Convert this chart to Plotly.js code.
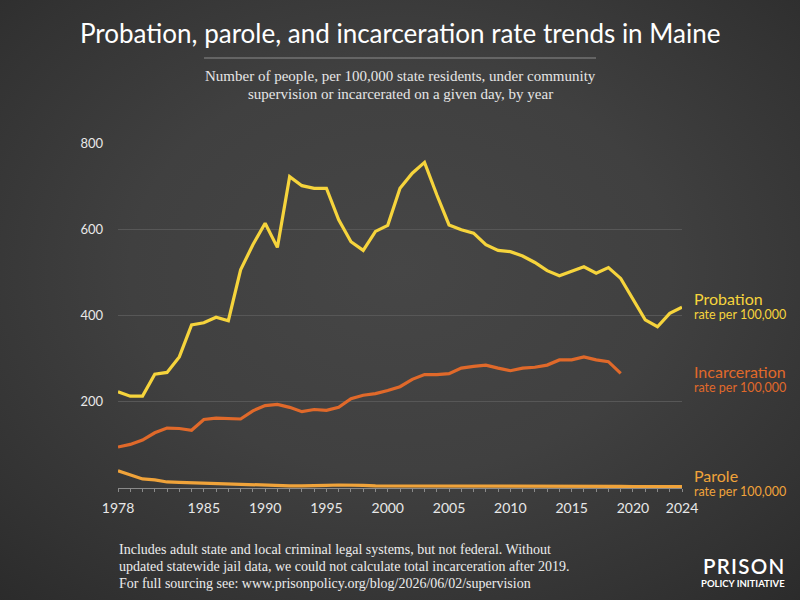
<!DOCTYPE html>
<html>
<head>
<meta charset="utf-8">
<script src="https://cdn.plot.ly/plotly-3.0.1.min.js"></script>
<style>
  html, body { margin: 0; padding: 0; }
  body {
    width: 800px; height: 600px; overflow: hidden;
    background: radial-gradient(ellipse 75% 75% at 50% 45%, #464646 0%, #404040 45%, #333333 80%, #2b2b2b 100%);
  }
  #chart { width: 800px; height: 600px; }
</style>
</head>
<body>
<div id="chart"></div>
<script>
// Rates per 100,000 Maine residents, by year
const years = [];
for (let y = 1978; y <= 2024; y++) years.push(y);

const probation = [
  223, 213, 213, 264, 268, 304, 378, 383, 396, 388,
  506, 564, 614, 558, 722, 701, 695, 695, 622, 571,
  551, 595, 609, 695, 730, 755, 680, 610, 599, 591,
  564, 551, 548, 538, 523, 504, 492, 503, 513, 498,
  511, 486, 438, 390, 374, 405, 419
];

// Total incarceration only available through 2019
const incarceration = [
  95, 101, 111, 128, 139, 138, 134, 159, 162, 161,
  160, 179, 191, 194, 187, 177, 182, 180, 187, 207,
  215, 219, 226, 235, 252, 263, 263, 265, 278, 282,
  285, 278, 272, 278, 280, 285, 297, 297, 304, 297,
  293, 266, null, null, null, null, null
];

const parole = [
  40, 30, 21, 19, 14, 13, 12, 11, 10, 9,
  8, 7, 6, 5, 5, 5, 5, 6, 7, 7,
  6, 5, 5, 5, 5, 5, 5, 5, 5, 5,
  5, 5, 4, 4, 4, 4, 4, 4, 4, 4,
  4, 4, 3, 3, 3, 3, 3
];

const labeledYears = [1978, 1985, 1990, 1995, 2000, 2005, 2010, 2015, 2020, 2024];
const yTicks = [200, 400, 600, 800];

const COLORS = { probation: '#f6d43c', incarceration: '#e0692a', parole: '#f0a33a' };

// Plot area in page pixels
const M = { l: 118, r: 118, t: 143, b: 112 };
const PW = 800 - M.l - M.r, PH = 600 - M.t - M.b;
const px = (x) => (x - M.l) / PW;
const py = (y) => (600 - M.b - y) / PH;

function series(name, ys, color) {
  return {
    x: years, y: ys, name: name, type: 'scatter', mode: 'lines',
    line: { color: color, width: 3.2, shape: 'linear' },
    connectgaps: false, hoverinfo: 'skip', cliponaxis: false
  };
}

const data = [
  series('Parole', parole, COLORS.parole),
  series('Incarceration', incarceration, COLORS.incarceration),
  series('Probation', probation, COLORS.probation)
];

const SANS = 'Lato, "Open Sans", sans-serif';
const SERIF = '"Liberation Serif", "DejaVu Serif", serif';

function note(text, x, y, opts) {
  return Object.assign({
    text: text, xref: 'paper', yref: 'paper', x: px(x), y: py(y),
    showarrow: false, xanchor: 'left', yanchor: 'middle', align: 'left',
    font: { family: SANS, size: 13, color: '#ffffff' }
  }, opts || {});
}

const HAIR = '\u200a';

const annotations = [
  // Title and subtitle
  note('Probation, parole, and incarceration rate trends in Maine', 400, 33,
       { xanchor: 'center', align: 'center', font: { family: SANS, size: 26, color: '#ffffff' } }),
  note('Number of people, per 100,000 state residents, under community', 400, 76,
       { xanchor: 'center', align: 'center', font: { family: SERIF, size: 15, color: '#e6e6e6' } }),
  note('supervision or incarcerated on a given day, by year', 400, 94,
       { xanchor: 'center', align: 'center', font: { family: SERIF, size: 15, color: '#e6e6e6' } }),

  // End-of-line labels
  note('Probation', 692, 298, { font: { family: SANS, size: 16, color: COLORS.probation } }),
  note('rate per 100,000', 692, 314, { font: { family: SANS, size: 12.5, color: COLORS.probation } }),
  note('Incarceration', 692, 371, { font: { family: SANS, size: 16, color: COLORS.incarceration } }),
  note('rate per 100,000', 692, 387, { font: { family: SANS, size: 12.5, color: COLORS.incarceration } }),
  note('Parole', 692, 475, { font: { family: SANS, size: 16, color: COLORS.parole } }),
  note('rate per 100,000', 692, 491, { font: { family: SANS, size: 12.5, color: COLORS.parole } }),

  // Footnote
  note('Includes adult state and local criminal legal systems, but not federal. Without', 117, 549,
       { font: { family: SERIF, size: 14, color: '#ececec' } }),
  note('updated statewide jail data, we could not calculate total incarceration after 2019.', 117, 566,
       { font: { family: SERIF, size: 14, color: '#ececec' } }),
  note('For full sourcing see: www.prisonpolicy.org/blog/2026/06/02/supervision', 117, 583,
       { font: { family: SERIF, size: 14, color: '#ececec' } }),

  // Logo
  note('PRISON'.split('').join(HAIR), 743, 566, { xanchor: 'center', align: 'center',
       font: { family: SANS, size: 20.5, color: '#ffffff', weight: 600 } }),
  note('POLICY INITIATIVE', 743, 583, { xanchor: 'center', align: 'center',
       font: { family: SANS, size: 9.5, color: '#ffffff', weight: 700 } })
];

const layout = {
  width: 800, height: 600,
  margin: M,
  paper_bgcolor: 'rgba(0,0,0,0)',
  plot_bgcolor: 'rgba(0,0,0,0)',
  showlegend: false,
  xaxis: {
    range: [1978, 2024],
    tickvals: years,
    ticktext: years.map(y => labeledYears.includes(y) ? String(y) : ''),
    ticks: 'outside', ticklen: 3, tickcolor: '#8a8a8a', tickwidth: 1,
    ticklabelstandoff: 4,
    showline: true, linecolor: '#8a8a8a', linewidth: 1,
    showgrid: false, zeroline: false,
    tickfont: { family: SANS, size: 14, color: '#e8e8e8' },
    fixedrange: true
  },
  yaxis: {
    range: [0, 800],
    tickvals: yTicks,
    ticktext: yTicks.map(String),
    ticks: '', ticklabelstandoff: 14,
    showline: false, zeroline: false,
    showgrid: true, gridcolor: '#575757', gridwidth: 1,
    tickfont: { family: SANS, size: 13, color: '#e8e8e8' },
    fixedrange: true
  },
  shapes: [
    { type: 'line', xref: 'paper', yref: 'paper',
      x0: px(204), x1: px(596), y0: py(58), y1: py(58),
      line: { color: '#8c8c8c', width: 1 } }
  ],
  annotations: annotations
};

Plotly.newPlot('chart', data, layout, { displayModeBar: false, staticPlot: true });
</script>
</body>
</html>
